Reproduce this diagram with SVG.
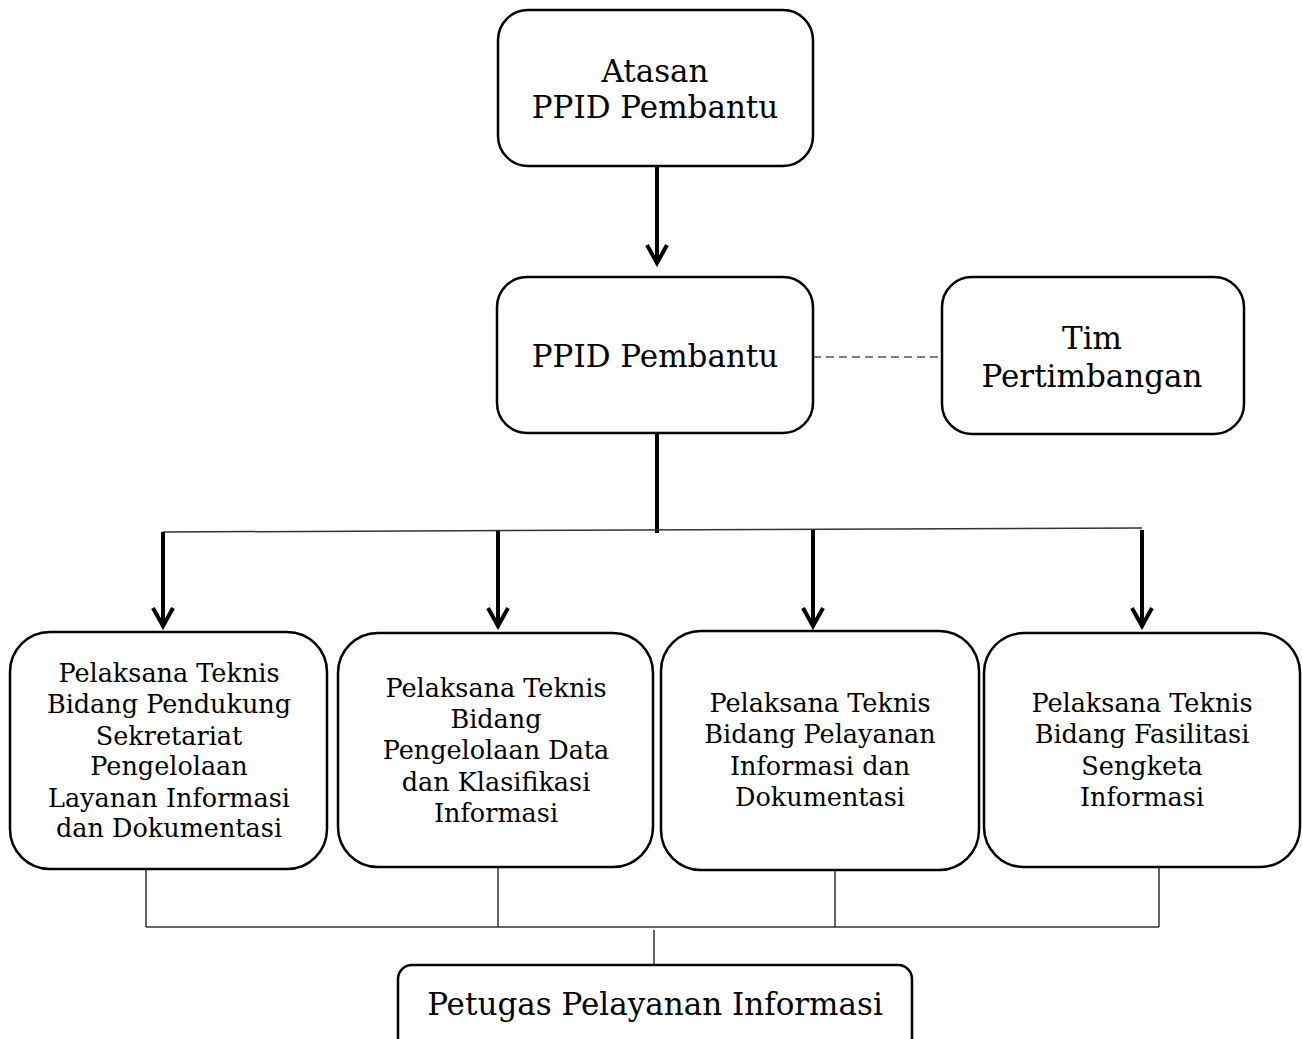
<svg xmlns="http://www.w3.org/2000/svg" width="1302" height="1039" viewBox="0 0 1302 1039">
<defs>
<style>
.box{fill:#fff;stroke:#000;stroke-width:2.5}
.t{font-family:"DejaVu Serif","Liberation Serif",serif;fill:#000;text-anchor:middle}
.big{font-size:31px}
.sm{font-size:25.5px}
.thick{stroke:#000;stroke-width:4;fill:none}
.thin{stroke:#333;stroke-width:1.5;fill:none}
.dash{stroke:#555;stroke-width:1.5;stroke-dasharray:8 5;fill:none}
</style>
<marker id="arr" markerWidth="26" markerHeight="26" viewBox="-22 -13 26 26" refX="0" refY="0" orient="auto" markerUnits="userSpaceOnUse">
<path d="M-18,-10 L0,0 L-18,10" fill="none" stroke="#000" stroke-width="4"/>
</marker>
</defs>
<rect width="1302" height="1039" fill="#fff"/>
<g id="connectors">
<line class="thick" x1="657" y1="167" x2="657" y2="263" marker-end="url(#arr)"/>
<line class="dash" x1="813" y1="357" x2="942" y2="357"/>
<line class="thick" x1="657" y1="434" x2="657" y2="533"/>
<line class="thin" x1="163" y1="532" x2="1142" y2="528"/>
<line class="thick" x1="163" y1="532" x2="163" y2="626" marker-end="url(#arr)"/>
<line class="thick" x1="498" y1="531" x2="498" y2="626" marker-end="url(#arr)"/>
<line class="thick" x1="813" y1="530" x2="813" y2="626" marker-end="url(#arr)"/>
<line class="thick" x1="1142" y1="530" x2="1142" y2="626" marker-end="url(#arr)"/>
<line class="thin" x1="146" y1="870" x2="146" y2="927"/>
<line class="thin" x1="498" y1="867" x2="498" y2="927"/>
<line class="thin" x1="835" y1="870" x2="835" y2="927"/>
<line class="thin" x1="1159" y1="868" x2="1159" y2="927"/>
<line class="thin" x1="146" y1="927" x2="1159" y2="927"/>
<line class="thin" x1="654" y1="930" x2="654" y2="965"/>
</g>
<g id="atasan">
<rect class="box" x="498" y="10" width="315" height="156" rx="30"/>
<text class="t big" x="655" y="82">Atasan</text>
<text class="t big" x="655" y="118">PPID Pembantu</text>
</g>
<g id="ppid">
<rect class="box" x="497" y="277" width="316" height="156" rx="30"/>
<text class="t big" x="655" y="367">PPID Pembantu</text>
</g>
<g id="tim">
<rect class="box" x="942" y="277" width="302" height="157" rx="30"/>
<text class="t big" x="1092" y="349">Tim</text>
<text class="t big" x="1092" y="387">Pertimbangan</text>
</g>
<g id="pt1">
<rect class="box" x="10" y="632" width="317" height="237" rx="40"/>
<text class="t sm" x="169" y="682">Pelaksana Teknis</text>
<text class="t sm" x="169" y="713">Bidang Pendukung</text>
<text class="t sm" x="169" y="745">Sekretariat</text>
<text class="t sm" x="169" y="775">Pengelolaan</text>
<text class="t sm" x="169" y="807">Layanan Informasi</text>
<text class="t sm" x="169" y="837">dan Dokumentasi</text>
</g>
<g id="pt2">
<rect class="box" x="338" y="633" width="315" height="234" rx="40"/>
<text class="t sm" x="496" y="697">Pelaksana Teknis</text>
<text class="t sm" x="496" y="728">Bidang</text>
<text class="t sm" x="496" y="759">Pengelolaan Data</text>
<text class="t sm" x="496" y="791">dan Klasifikasi</text>
<text class="t sm" x="496" y="822">Informasi</text>
</g>
<g id="pt3">
<rect class="box" x="661" y="631" width="318" height="239" rx="40"/>
<text class="t sm" x="820" y="712">Pelaksana Teknis</text>
<text class="t sm" x="820" y="743">Bidang Pelayanan</text>
<text class="t sm" x="820" y="775">Informasi dan</text>
<text class="t sm" x="820" y="806">Dokumentasi</text>
</g>
<g id="pt4">
<rect class="box" x="984" y="633" width="316" height="234" rx="40"/>
<text class="t sm" x="1142" y="712">Pelaksana Teknis</text>
<text class="t sm" x="1142" y="743">Bidang Fasilitasi</text>
<text class="t sm" x="1142" y="775">Sengketa</text>
<text class="t sm" x="1142" y="806">Informasi</text>
</g>
<g id="petugas">
<rect class="box" x="398" y="965" width="514" height="90" rx="14"/>
<text class="t big" x="655" y="1015">Petugas Pelayanan Informasi</text>
</g>
</svg>
